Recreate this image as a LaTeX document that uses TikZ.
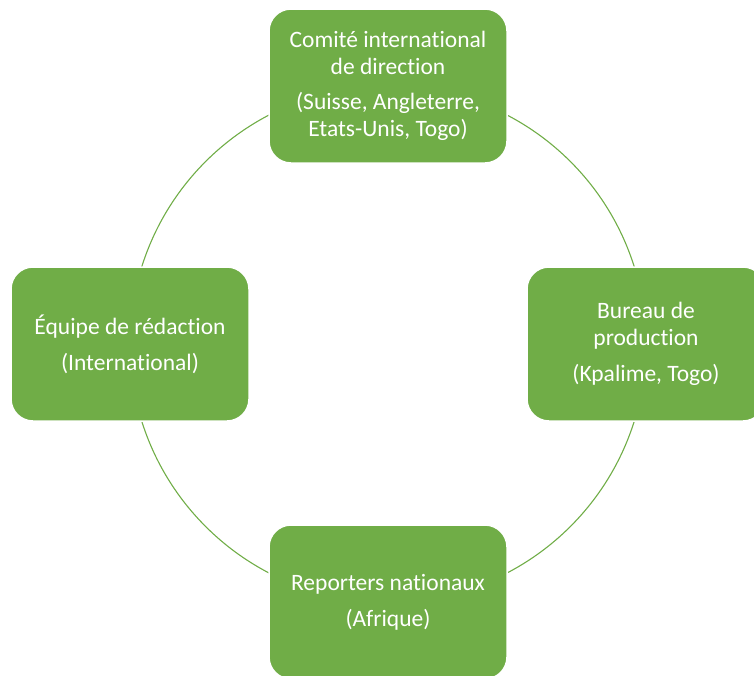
\documentclass[tikz,border=0pt]{standalone}
\usepackage{fontspec}
\setmainfont{Carlito}[Ligatures=NoCommon]
\definecolor{boxgreen}{HTML}{70AD47}
\begin{document}
\begin{tikzpicture}[x=1pt,y=-1pt,
  box/.style={rectangle, rounded corners=22pt, fill=boxgreen, draw=white, line width=1.5pt,
    minimum width=238pt, minimum height=154pt, inner sep=0pt, align=center,
    text=white, font=\fontsize{23.5}{27}\selectfont},
  ring/.style={draw=boxgreen, line width=1.1pt}]
\clip (0,0) rectangle (754,675);
\useasboundingbox (0,0) rectangle (754,675);
\coordinate (c) at (388,344);
\draw[ring] (c) circle[radius=258];
\node[box] (top) at (388,86) {Comité international\\de direction\\[8pt](Suisse, Angleterre,\\Etats-Unis, Togo)};
\node[box] (right) at (646,344) {Bureau de\\production\\[9pt](Kpalime, Togo)};
\node[box] (bottom) at (388,602) {Reporters nationaux\\[9pt](Afrique)};
\node[box] (left) at (130,344) {Équipe de rédaction\\[9pt](International)};
\end{tikzpicture}
\end{document}
